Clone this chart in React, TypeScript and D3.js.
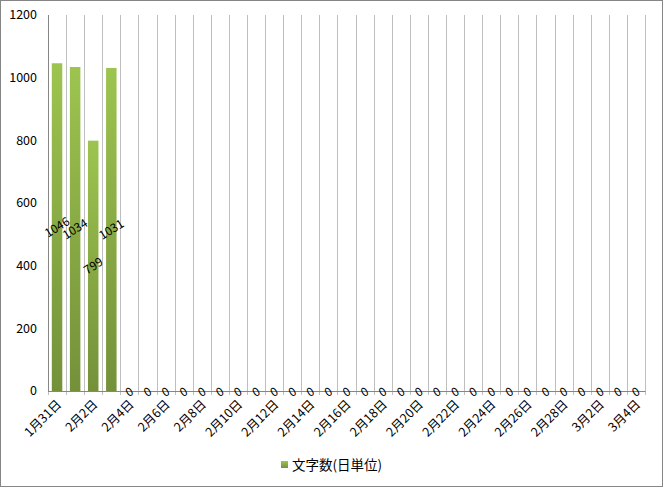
import React from "react";
import * as d3 from "d3";

const categories: string[] = [
  "1月31日",
  ...d3.range(1, 29).map((d) => `2月${d}日`),
  ...d3.range(1, 5).map((d) => `3月${d}日`),
];
const values: number[] = [1046, 1034, 799, 1031, ...new Array(29).fill(0)];
const yTicks: number[] = [0, 200, 400, 600, 800, 1000, 1200];
const seriesName = "文字数(日単位)";

const W = 663;
const H = 487;
const margin = { left: 48, right: 18, top: 15, bottom: 96 };
const FONT = "'Noto Sans CJK JP', 'DejaVu Sans', sans-serif";

export default function App() {
  const x = d3
    .scaleBand<number>()
    .domain(d3.range(categories.length))
    .range([margin.left, W - margin.right])
    .paddingInner(0)
    .paddingOuter(0);
  const y = d3.scaleLinear().domain([0, 1200]).range([H - margin.bottom, margin.top]);
  const bw = x.bandwidth();
  const barW = bw * 0.58;
  const y0 = y(0);

  return (
    <div style={{ position: "fixed", left: 0, top: 0 }}>
      <svg width={W} height={H} style={{ display: "block", background: "#fff" }}>
        <defs>
          <linearGradient id="barGrad" x1="0" y1="0" x2="0" y2="1">
            <stop offset="0%" stopColor="#9dc44f" />
            <stop offset="100%" stopColor="#74913a" />
          </linearGradient>
        </defs>
        <rect x={0.5} y={0.5} width={W - 1} height={H - 1} fill="#fff" stroke="#868686" strokeWidth={1} />
        {d3.range(categories.length + 1).map((i) => {
          const xx = Math.round(margin.left + i * bw) + 0.5;
          return (
            <line key={"g" + i} x1={xx} x2={xx} y1={margin.top} y2={y0 + 4} stroke="#bfbfbf" strokeWidth={1} />
          );
        })}
        {values.map((v, i) => (
          <rect
            key={"b" + i}
            x={(x(i) as number) + (bw - barW) / 2}
            y={y(v)}
            width={barW}
            height={y0 - y(v)}
            fill="url(#barGrad)"
          />
        ))}
        <line x1={margin.left + 0.5} x2={margin.left + 0.5} y1={margin.top} y2={y0} stroke="#868686" />
        <line x1={margin.left} x2={W - margin.right + 0.5} y1={Math.round(y0) + 0.5} y2={Math.round(y0) + 0.5} stroke="#868686" />
        {yTicks.map((t) => (
          <text
            key={"y" + t}
            x={margin.left - 11}
            y={y(t)}
            dy="0.35em"
            textAnchor="end"
            fontFamily={FONT}
            fontSize={12.5}
            fill="#000"
          >
            {t}
          </text>
        ))}
        {values.map((v, i) => {
          const cx = (x(i) as number) + bw / 2;
          const cy = v > 0 ? (y(v) + y0) / 2 : y0 + 1;
          return (
            <text
              key={"l" + i}
              transform={`translate(${cx},${cy}) rotate(-32)`}
              textAnchor="middle"
              dy="0.35em"
              fontFamily={FONT}
              fontSize={12}
              fill="#000"
            >
              {v}
            </text>
          );
        })}
        {categories.map((c, i) =>
          i % 2 === 0 ? (
            <text
              key={"x" + i}
              transform={`translate(${(x(i) as number) + bw / 2 + 2},${y0 + 11}) rotate(-45)`}
              textAnchor="end"
              dy="0.35em"
              fontFamily={FONT}
              fontSize={12.5}
              fill="#000"
            >
              {c}
            </text>
          ) : null
        )}
        <rect x={281} y={461} width={7} height={7} fill="url(#barGrad)" />
        <text x={292} y={465} dy="0.35em" fontFamily={FONT} fontSize={13.5} fill="#000">
          {seriesName}
        </text>
      </svg>
    </div>
  );
}
